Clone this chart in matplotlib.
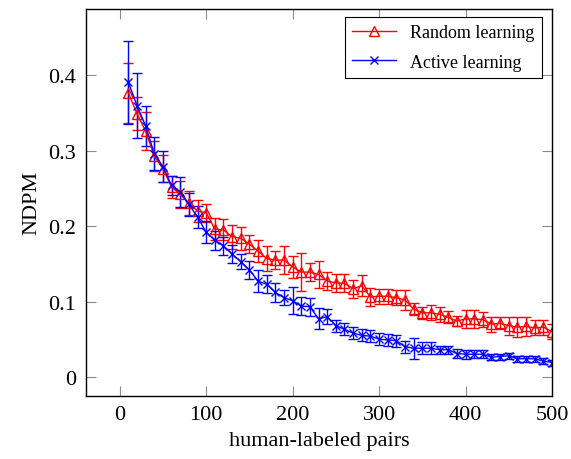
import numpy as np
import matplotlib
matplotlib.use('Agg')
import matplotlib.pyplot as plt
from matplotlib.lines import Line2D

plt.rcParams['font.family'] = ['Liberation Serif', 'DejaVu Serif']

# Anzahl gelabelter Paare
pairs = list(range(10, 501, 10))

random_ndpm = [0.377, 0.349, 0.326, 0.293, 0.276, 0.252, 0.242, 0.231, 0.220, 0.218,
               0.196, 0.195, 0.186, 0.184, 0.176, 0.167, 0.157, 0.155, 0.155, 0.146,
               0.139, 0.139, 0.136, 0.127, 0.125, 0.124, 0.117, 0.121, 0.106, 0.107,
               0.107, 0.105, 0.102, 0.090, 0.085, 0.085, 0.083, 0.079, 0.074, 0.077,
               0.077, 0.076, 0.070, 0.071, 0.068, 0.066, 0.067, 0.065, 0.066, 0.060]
random_err = [0.040, 0.022, 0.025, 0.020, 0.018, 0.015, 0.018, 0.016, 0.015, 0.012,
              0.015, 0.014, 0.016, 0.015, 0.012, 0.014, 0.016, 0.012, 0.018, 0.015,
              0.025, 0.012, 0.018, 0.012, 0.012, 0.012, 0.012, 0.014, 0.012, 0.010,
              0.010, 0.010, 0.013, 0.008, 0.008, 0.010, 0.010, 0.008, 0.007, 0.012,
              0.012, 0.010, 0.010, 0.008, 0.012, 0.013, 0.013, 0.010, 0.010, 0.010]

active_ndpm = [0.391, 0.360, 0.333, 0.296, 0.279, 0.254, 0.245, 0.229, 0.212, 0.192,
               0.181, 0.174, 0.163, 0.153, 0.142, 0.127, 0.123, 0.112, 0.105, 0.101,
               0.094, 0.093, 0.077, 0.080, 0.068, 0.063, 0.058, 0.055, 0.054, 0.050,
               0.049, 0.048, 0.040, 0.038, 0.038, 0.038, 0.036, 0.036, 0.031, 0.030,
               0.030, 0.030, 0.026, 0.027, 0.028, 0.024, 0.024, 0.024, 0.021, 0.019]
active_err = [0.055, 0.043, 0.027, 0.022, 0.021, 0.013, 0.020, 0.015, 0.015, 0.015,
              0.012, 0.012, 0.012, 0.010, 0.012, 0.015, 0.012, 0.012, 0.010, 0.018,
              0.012, 0.012, 0.014, 0.010, 0.008, 0.008, 0.008, 0.008, 0.008, 0.008,
              0.008, 0.008, 0.008, 0.014, 0.008, 0.008, 0.005, 0.005, 0.006, 0.006,
              0.005, 0.005, 0.004, 0.004, 0.004, 0.004, 0.004, 0.004, 0.004, 0.004]

fig = plt.figure(figsize=(5.71, 4.6), dpi=100)
ax = fig.add_axes([0.1506, 0.1376, 0.8161, 0.8404])

ax.errorbar(pairs, random_ndpm, yerr=random_err, color='red', marker='^',
            markerfacecolor='none', markersize=6.5, linewidth=1, elinewidth=1,
            capsize=3.5)
ax.errorbar(pairs, active_ndpm, yerr=active_err, color='blue', marker='x',
            markersize=6, linewidth=1, elinewidth=1, capsize=3.5)

ax.set_xlim(-39, 500)
ax.set_ylim(-0.025, 0.488)
ax.set_xticks([0, 100, 200, 300, 400, 500])
ax.set_yticks([0, 0.1, 0.2, 0.3, 0.4])
ax.set_yticklabels(['0', '0.1', '0.2', '0.3', '0.4'])

ax.tick_params(direction='in', length=7, width=0.8, color='0.55',
               top=True, right=True, labelsize=16)
ax.tick_params(axis='y', pad=7)
ax.tick_params(axis='x', pad=7)
for s in ax.spines.values():
    s.set_linewidth(1)

ax.set_xlabel('human-labeled pairs', fontsize=16, labelpad=5)
ax.set_ylabel('NDPM', fontsize=16, labelpad=5)

# Legende nur mit Linie + Marker (ohne Fehlerbalken)
handles = [
    Line2D([], [], color='red', marker='^', markerfacecolor='none', markersize=6.5, linewidth=1),
    Line2D([], [], color='blue', marker='x', markersize=6, linewidth=1),
]
leg = ax.legend(handles, ['Random learning', 'Active learning'],
                loc='upper right', bbox_to_anchor=(0.978, 0.98), fontsize=13,
                fancybox=False, edgecolor='black', framealpha=1,
                handlelength=2.4, borderaxespad=0, labelspacing=0.7)
leg.get_frame().set_linewidth(0.8)

plt.savefig('out.png', dpi=100)
